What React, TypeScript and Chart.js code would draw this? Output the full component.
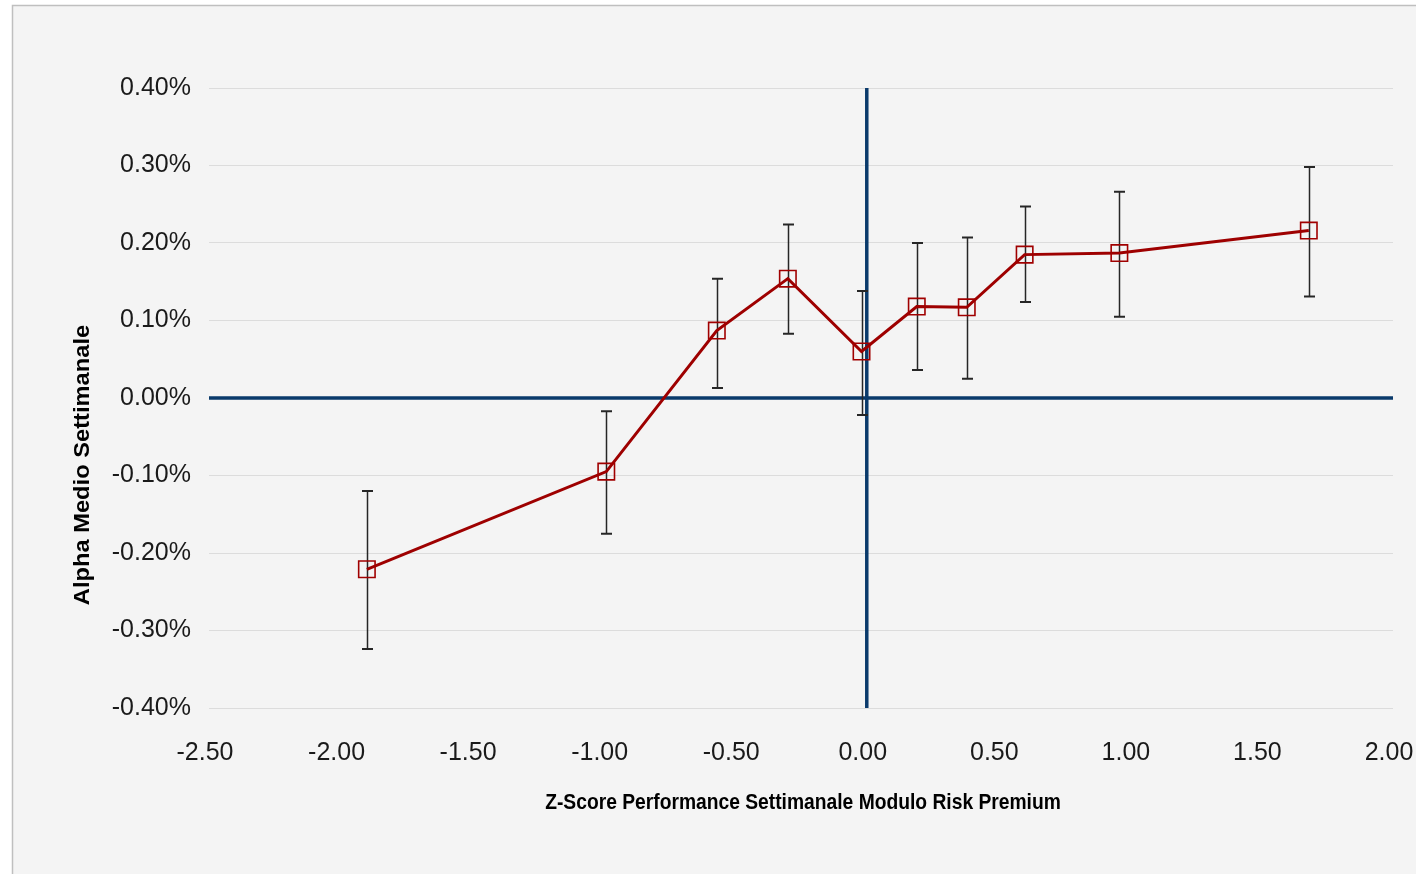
import React, { useEffect, useRef } from 'react';
import { Chart, registerables } from 'chart.js';

Chart.register(...registerables);

// ---- Data (alpha values in %) ----
const zScores = [-1.9, -0.99, -0.57, -0.3, -0.02, 0.19, 0.38, 0.6, 0.96, 1.68];
const alphaMean = [-0.221, -0.095, 0.087, 0.154, 0.06, 0.118, 0.117, 0.185, 0.187, 0.216];
const errUpper = [-0.12, -0.017, 0.154, 0.224, 0.138, 0.2, 0.207, 0.247, 0.266, 0.298];
const errLower = [-0.324, -0.175, 0.013, 0.083, -0.022, 0.036, 0.025, 0.124, 0.105, 0.131];

const xTicks = [-2.5, -2.0, -1.5, -1.0, -0.5, 0.0, 0.5, 1.0, 1.5, 2.0];
const yTicks = [-0.4, -0.3, -0.2, -0.1, 0.0, 0.1, 0.2, 0.3, 0.4];

const xAxisTitle = 'Z-Score Performance Settimanale Modulo Risk Premium';
const yAxisTitle = 'Alpha Medio Settimanale';

const W = 1416;
const H = 874;
const FONT = "'Liberation Sans', Arial, Helvetica, sans-serif";

const backgroundPlugin = {
  id: 'bgFrame',
  beforeDraw(chart: any) {
    const ctx = chart.ctx;
    ctx.save();
    ctx.fillStyle = '#ffffff';
    ctx.fillRect(0, 0, W, H);
    ctx.fillStyle = '#f4f4f4';
    ctx.fillRect(12, 5, W - 12, H - 5);
    ctx.strokeStyle = '#bfbfbf';
    ctx.lineWidth = 1.5;
    ctx.beginPath();
    ctx.moveTo(12.5, H);
    ctx.lineTo(12.5, 5.5);
    ctx.lineTo(W, 5.5);
    ctx.stroke();
    ctx.restore();
  },
};

const errorBarPlugin = {
  id: 'errorBars',
  beforeDatasetDraw(chart: any, args: any) {
    if (args.index !== 0) return;
    const ctx = chart.ctx;
    const xs = chart.scales.x;
    const ys = chart.scales.y;
    ctx.save();
    ctx.strokeStyle = '#262626';
    for (let i = 0; i < zScores.length; i++) {
      const px = Math.round(xs.getPixelForValue(zScores[i])) + 0.5;
      const top = ys.getPixelForValue(errUpper[i]);
      const bot = ys.getPixelForValue(errLower[i]);
      ctx.lineWidth = 1.5;
      ctx.beginPath();
      ctx.moveTo(px, top);
      ctx.lineTo(px, bot);
      ctx.stroke();
      ctx.lineWidth = 2;
      ctx.beginPath();
      ctx.moveTo(px - 5.5, top);
      ctx.lineTo(px + 5.5, top);
      ctx.moveTo(px - 5.5, bot);
      ctx.lineTo(px + 5.5, bot);
      ctx.stroke();
    }
    ctx.restore();
  },
};

const axisTitlePlugin = {
  id: 'axisTitles',
  afterDraw(chart: any) {
    const ctx = chart.ctx;
    const area = chart.chartArea;
    ctx.save();
    ctx.fillStyle = '#000000';
    // X title
    ctx.font = `bold 21.4px ${FONT}`;
    ctx.textAlign = 'center';
    ctx.textBaseline = 'alphabetic';
    ctx.save();
    ctx.translate((area.left + area.right) / 2 + 2, area.bottom + 101);
    ctx.scale(0.9, 1);
    ctx.fillText(xAxisTitle, 0, 0);
    ctx.restore();
    // Y title
    ctx.font = `bold 23.7px ${FONT}`;
    ctx.textBaseline = 'middle';
    ctx.save();
    ctx.translate(83, (area.top + area.bottom) / 2 + 67);
    ctx.rotate(-Math.PI / 2);
    ctx.scale(1, 0.9);
    ctx.fillText(yAxisTitle, 0, 0);
    ctx.restore();
    ctx.restore();
  },
};

export default function App() {
  const canvasRef = useRef<HTMLCanvasElement | null>(null);

  useEffect(() => {
    const canvas = canvasRef.current;
    if (!canvas) return;
    const xMin = xTicks[0];
    const xMax = xTicks[xTicks.length - 1];
    const yMin = yTicks[0];
    const yMax = yTicks[yTicks.length - 1];

    const chart = new Chart(canvas, {
      type: 'scatter',
      data: {
        datasets: [
          {
            label: 'Alpha medio',
            data: zScores.map((z, i) => ({ x: z, y: alphaMean[i] })),
            showLine: true,
            borderColor: '#9e0000',
            borderWidth: 3,
            pointStyle: 'rect',
            pointRadius: 11.6,
            pointBorderWidth: 1.6,
            pointBorderColor: '#a00000',
            pointBackgroundColor: 'rgba(0,0,0,0)',
            clip: false,
          } as any,
          {
            label: 'zero-y',
            data: [
              { x: xMin, y: 0 },
              { x: xMax, y: 0 },
            ],
            showLine: true,
            borderColor: '#0a3a6b',
            borderWidth: 3.5,
            pointRadius: 0,
          },
          {
            label: 'zero-x',
            data: [
              { x: 0, y: yMin },
              { x: 0, y: yMax },
            ],
            showLine: true,
            borderColor: '#0a3a6b',
            borderWidth: 3.5,
            pointRadius: 0,
          },
        ],
      },
      options: {
        responsive: false,
        animation: false,
        events: [],
        layout: { padding: { top: 88, right: 23, left: 0, bottom: 0 } },
        plugins: {
          legend: { display: false },
          tooltip: { enabled: false },
          title: { display: false },
        },
        scales: {
          x: {
            type: 'linear',
            min: xMin,
            max: xMax,
            afterBuildTicks: (s: any) => {
              s.ticks = xTicks.map((v) => ({ value: v }));
            },
            afterFit: (s: any) => {
              s.height = H - 708;
              s.paddingLeft = 0;
              s.paddingRight = 0;
            },
            grid: { display: false, drawTicks: false },
            border: { display: false },
            ticks: {
              padding: 30,
              labelOffset: -4,
              maxRotation: 0,
              autoSkip: false,
              color: '#1a1a1a',
              font: { family: FONT, size: 25 },
              callback: (v: any) => Number(v).toFixed(2),
            },
          },
          y: {
            type: 'linear',
            min: yMin,
            max: yMax,
            afterBuildTicks: (s: any) => {
              s.ticks = yTicks.map((v) => ({ value: v }));
            },
            afterFit: (s: any) => {
              s.width = 209;
              s.paddingTop = 0;
              s.paddingBottom = 0;
            },
            grid: { color: '#dcdcdc', lineWidth: 1, drawTicks: false },
            border: { display: false },
            ticks: {
              padding: 18,
              autoSkip: false,
              color: '#1a1a1a',
              font: { family: FONT, size: 25 },
              callback: (v: any) => Number(v).toFixed(2) + '%',
            },
          },
        },
      },
      plugins: [backgroundPlugin, errorBarPlugin, axisTitlePlugin],
    });

    return () => {
      chart.destroy();
    };
  }, []);

  return (
    <div style={{ position: 'fixed', left: 0, top: 0, width: W, height: H }}>
      <canvas ref={canvasRef} width={W} height={H} style={{ display: 'block', width: W, height: H }} />
    </div>
  );
}
